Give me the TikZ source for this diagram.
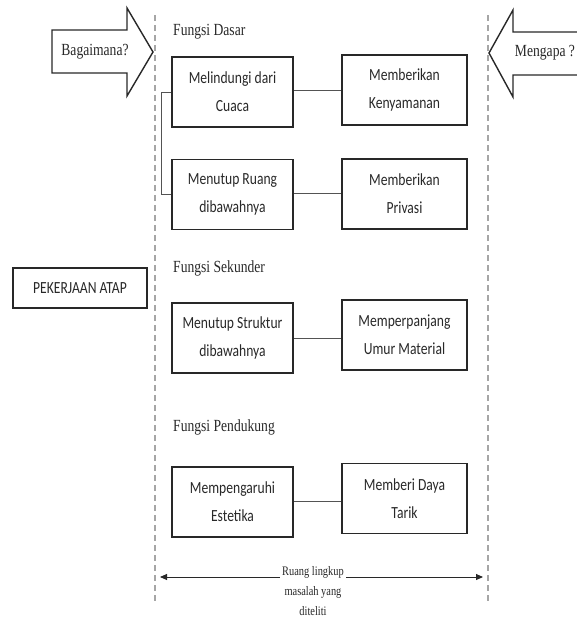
\documentclass[tikz,border=0pt]{standalone}
\usepackage{fontspec}
\usetikzlibrary{arrows.meta}
\newfontfamily\boxfont[FakeStretch=0.8]{Carlito}
\newfontfamily\labfont[FakeStretch=0.8]{Liberation Serif}
\definecolor{ink}{RGB}{40,40,40}
\begin{document}
\begin{tikzpicture}[x=1pt,y=-1pt,
  fbox/.style={draw=ink,line width=1.8pt,minimum width=121pt,minimum height=70pt,align=center,
    font=\boxfont\fontsize{17}{28}\selectfont,text=ink,inner sep=0pt},
  gbox/.style={fbox,minimum width=125pt},
  lab/.style={font=\labfont\fontsize{17}{20}\selectfont,text=ink,anchor=west,inner sep=0pt},
  conn/.style={draw=ink!80,line width=0.9pt},
  dline/.style={draw=gray!70,line width=1.2pt,dash pattern=on 6pt off 4pt},
  bigarrow/.style={draw=ink,line width=1.4pt,fill=white,line join=miter}]
\useasboundingbox (0,0) rectangle (576,621);
% dashed boundaries
\coordinate (dl1) at (155,15); \coordinate (dl2) at (155,603);
\coordinate (dr1) at (488,15); \coordinate (dr2) at (488,603);
\draw[dline] (dl1) -- (dl2);
\draw[dline] (dr1) -- (dr2);
% big arrows
\draw[bigarrow] (52,30) -- (127,30) -- (127,8) -- (153,52) -- (127,96) -- (127,73) -- (52,73) -- cycle;
\node[font=\labfont\fontsize{17}{20}\selectfont,text=ink] (bag) at (95,52) {Bagaimana?};
\draw[bigarrow] (580,32) -- (513,32) -- (513,10) -- (489,53) -- (513,97) -- (513,75) -- (580,75);
\node[font=\labfont\fontsize{17}{20}\selectfont,text=ink] (men) at (545,53) {Mengapa ?};
% labels
\node[lab] (fd) at (173,32) {Fungsi Dasar};
\node[lab] (fs) at (173,268) {Fungsi Sekunder};
\node[lab] (fp) at (173,427) {Fungsi Pendukung};
% boxes
\node[fbox] (b1) at (232.5,92) {Melindungi dari\\Cuaca};
\node[fbox] (b2) at (232.5,194.5) {Menutup Ruang\\dibawahnya};
\node[gbox] (b3) at (404.5,90) {Memberikan\\Kenyamanan};
\node[gbox] (b4) at (404.5,194) {Memberikan\\Privasi};
\node[fbox] (b5) at (232.5,338) {Menutup Struktur\\dibawahnya};
\node[gbox] (b6) at (404.5,335) {Memperpanjang\\Umur Material};
\node[fbox] (b7) at (232.5,502) {Mempengaruhi\\Estetika};
\node[gbox] (b8) at (404.5,498.5) {Memberi Daya\\Tarik};
\node[fbox,minimum width=134pt,minimum height=40pt] (pa) at (80,288) {PEKERJAAN ATAP};
% connectors
\draw[conn] (b1.east |- 0,90) -- (b3.west |- 0,90);
\draw[conn] (b2.east |- 0,193) -- (b4.west |- 0,193);
\draw[conn] (b5.east |- 0,338) -- (b6.west |- 0,338);
\draw[conn] (b7.east |- 0,501) -- (b8.west |- 0,501);
\draw[conn] (b1.west) -- ++(-10,0) |- (b2.west);
% scope arrow
\coordinate (sa) at (160,577); \coordinate (sb) at (483,577);
\draw[draw=ink,line width=0.9pt,{Triangle[length=7pt,width=6pt]}-{Triangle[length=7pt,width=6pt]}] (sa) -- (sb);
\node[fill=white,align=center,font=\labfont\fontsize{13}{20}\selectfont,text=ink,inner sep=2pt] (rl) at (313,591) {Ruang lingkup\\masalah yang\\diteliti};
\end{tikzpicture}
\end{document}
